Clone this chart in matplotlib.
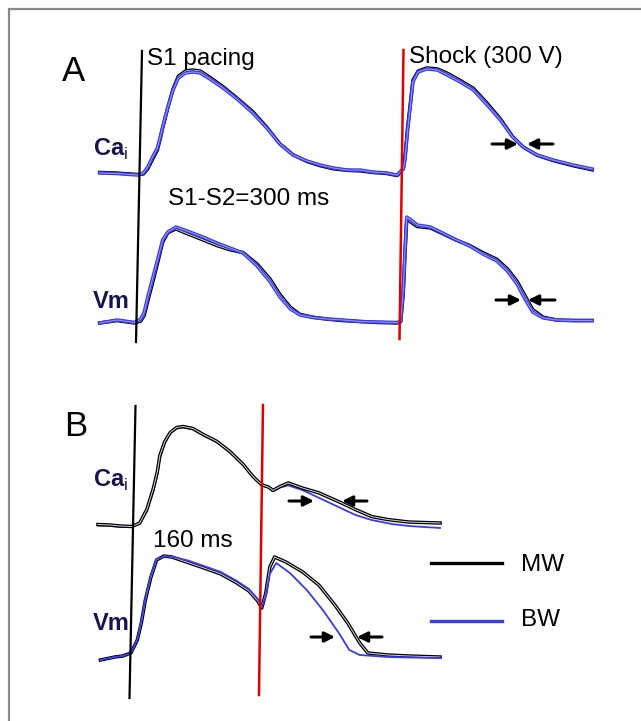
import matplotlib.pyplot as plt

plt.rcParams['font.family'] = ['Liberation Sans', 'DejaVu Sans']
plt.rcParams['mathtext.fontset'] = 'custom'
plt.rcParams['mathtext.rm'] = 'Liberation Sans'
plt.rcParams['mathtext.bf'] = 'Liberation Sans:bold'

# ---- panel A: S1-S2 = 300 ms, time in ms from S1, amplitude in % of peak ----
tA_ca = [-45, -27, -10, -1, 5, 10, 16, 21, 24, 27, 33, 39, 45, 53, 61, 70, 81, 96, 112, 130,
         146, 161, 176, 192, 207, 222, 238, 253, 267, 283, 295, 298, 302, 304, 307, 310, 313,
         319, 329, 341, 352, 367, 382, 398, 413, 427, 439, 455, 473, 496, 518]
caA_bw = [1, 0.5, -0.5, -1, 1, 6.7, 17.3, 25, 34.6, 45.2, 64.4, 80.8, 92.3, 97.1, 98.1, 97.1,
          91.3, 82.7, 72.1, 58.7, 44.2, 28.8, 18.3, 12.5, 8.7, 5.8, 3.8, 3.8, 1.9, 1, -1, 1.9,
          4.8, 13.5, 42.3, 64.4, 88.5, 98.1, 101, 100, 95.2, 88.5, 80.8, 66.3, 51.9, 35.6, 26,
          18.3, 13.5, 8.7, 4.8]
caA_mw = [1.5, 1, 0, -0.5, 0, 5, 15, 23, 33, 44, 64, 82, 94, 99, 100, 99, 93, 84, 73, 60, 45,
          29, 18.5, 12, 8, 5, 3.5, 3, 1.5, 0.5, -1.5, 1, 5, 16, 45, 67, 90, 99, 102, 101, 97, 90,
          82.5, 68, 53, 36, 26, 18, 13, 8, 4]

tA_vm = [-45, -25, -5, 2, 6, 10, 16, 22, 27, 33, 42, 55, 73, 89, 104, 119, 135, 150, 161, 173,
         184, 199, 215, 233, 253, 272, 295, 299, 302, 304, 306, 311, 318, 333, 347, 363, 378,
         393, 409, 421, 432, 441, 450, 462, 478, 496, 518]
vmA_bw = [-1.1, 2.1, -0.5, 3.2, 10.5, 26.3, 47.4, 68.4, 86.3, 94.7, 100, 95.8, 89.5, 83.2, 77.9,
          72.6, 58.9, 42.1, 26.3, 13.7, 7.4, 4.7, 3.2, 2.1, 0.5, 0, -0.5, 0.5, 33.7, 75.8, 110.5,
          107.4, 102.1, 100, 93.7, 86.3, 80, 71.6, 64.2, 53.7, 40, 24.2, 10.5, 4.2, 2.1, 1.6, 1.6]
vmA_mw = [-1, 1.5, -1, 1, 7, 22, 43, 65, 84, 94, 98, 93, 86.5, 80.5, 76, 73, 61, 45, 29, 15.5,
          8, 5, 3, 1.5, 0.5, -0.5, -1, 0, 30, 72, 109, 105, 100.5, 99, 93, 86, 80.5, 73, 66, 56,
          43, 28, 13, 5, 2, 1.5, 1.5]

# ---- panel B: S1-S2 = 160 ms ----
tB_ca_mw = [-43, -28, -16, -1, 9, 18, 26, 31, 34, 40, 47, 55, 63, 75, 88, 105, 121, 138, 150, 161,
            169, 175, 184, 194, 211, 232, 257, 278, 298, 318, 344, 383]
caB_mw = [1.5, 1, 0, -0.5, 3, 17, 38, 55, 71, 85, 94.5, 99.5, 100.5, 98.5, 92.5, 85.5, 75.5, 62,
          50, 41.5, 39.5, 36, 40, 43.5, 38.5, 33.5, 24.5, 16.5, 9.5, 6.5, 4, 3]
tB_ca_bw = [-43, -28, -16, -1, 9, 18, 26, 31, 34, 40, 47, 55, 63, 75, 88, 105, 121, 138, 150, 161,
            169, 175, 184, 194, 211, 232, 257, 278, 298, 323, 344, 383]
caB_bw = [0.5, 0, -1, -1, 2.5, 15, 35, 52, 68, 83, 93.5, 98.5, 99.5, 97.5, 91.5, 84.5, 74.5, 61.5,
          49.5, 41, 39, 35, 39, 41, 36.5, 28.5, 19, 11, 6, 2, 0, -2]

tB_vm_mw = [-40, -22, -12, -2, 6, 11, 16, 23, 30, 39, 49, 69, 89, 110, 130, 145, 156, 161, 166, 171,
            177, 191, 212, 232, 252, 268, 283, 293, 318, 344, 383]
vmB_mw = [-4, -1, 0, 3, 16, 33, 56, 79, 96, 100, 99, 93.5, 88, 82, 73, 65, 55, 48, 63, 89, 99, 94,
          84, 71, 51, 33, 13, 3, 1, 0, -1]
tB_vm_bw = [-40, -22, -12, -2, 6, 11, 16, 23, 30, 39, 49, 69, 89, 110, 130, 145, 156, 161, 166, 171,
            179, 196, 217, 237, 257, 270, 283, 318, 344, 383]
vmB_bw = [-4, -1, 0, 3, 17, 35, 58, 81, 97, 99.5, 99.5, 95.5, 90, 84, 75, 67, 57, 49, 60, 82, 93,
          83, 66, 46, 23, 6, 1, -1, -1.5, -2]

s2_A = 300
s2_B = 160

BLUE = '#3b3bee'
NAVY = '#16164e'
RED = '#e00000'

W, H = 641, 721
fig = plt.figure(figsize=(W / 100, H / 100), dpi=100)


def trace_axes(t0, pxms, base, amp):
    # place an axes so that t=0 sits on the S1 line and 0..100 % spans the trace
    xmin, xmax, ymin, ymax = -60, 540, -20, 130
    left = t0 + pxms * xmin
    right = t0 + pxms * xmax
    top = base - amp * ymax / 100
    bottom = base - amp * ymin / 100
    ax = fig.add_axes([left / W, 1 - bottom / H, (right - left) / W, (bottom - top) / H])
    ax.set_xlim(xmin, xmax)
    ax.set_ylim(ymin, ymax)
    ax.axis('off')
    return ax


def double_line(ax, t, v, color, inner):
    ax.plot(t, v, color=color, lw=2.5, solid_joinstyle='round', clip_on=False)
    ax.plot(t, v, color=inner, lw=0.7, solid_joinstyle='round', clip_on=False)


# panel A
axA_ca = trace_axes(139, 0.875, 174, 104)
double_line(axA_ca, tA_ca, caA_mw, 'black', '#d8d8d8')
double_line(axA_ca, tA_ca, caA_bw, BLUE, '#9a9aff')
axA_vm = trace_axes(139, 0.875, 322, 95)
double_line(axA_vm, tA_vm, vmA_mw, 'black', '#d8d8d8')
double_line(axA_vm, tA_vm, vmA_bw, BLUE, '#9a9aff')

# panel B
axB_ca = trace_axes(132.5, 0.803, 526, 99)
axB_ca.plot(tB_ca_bw, caB_bw, color=BLUE, lw=1.3, clip_on=False)
double_line(axB_ca, tB_ca_mw, caB_mw, 'black', '#d8d8d8')
axB_vm = trace_axes(132.5, 0.803, 656, 100)
double_line(axB_vm, tB_vm_mw, vmB_mw, 'black', '#d8d8d8')
axB_vm.plot(tB_vm_bw, vmB_bw, color=BLUE, lw=1.3, clip_on=False)

# overlay in pixel units for labels, stimulus markers and arrows
ov = fig.add_axes([0, 0, 1, 1])
ov.set_xlim(0, W)
ov.set_ylim(H, 0)
ov.axis('off')

# frame (cut off at right and bottom)
ov.plot([9, 9, W + 5], [H + 5, 9, 9], color='#888888', lw=1.6, solid_joinstyle='miter')

# stimulus lines
for t0, pxms, s2, y0, y1 in [(139, 0.875, s2_A, 51, 342), (132.5, 0.803, s2_B, 406, 698)]:
    x1 = t0
    x2 = t0 + pxms * s2
    ov.plot([x1 + 3, x1 - 3], [y0, y1], color='black', lw=1.6)
    ov.plot([x2 + 2, x2 - 2], [y0 - 1, y1 - 3], color=RED, lw=1.8)

txt = dict(fontsize=17.5, va='baseline', ha='left', color='black')
ov.text(62, 81, 'A', fontsize=25, va='baseline', ha='left')
ov.text(64, 436, 'B', fontsize=25, va='baseline', ha='left')
ov.text(147, 65, 'S1 pacing', **txt)
ov.text(409, 63, 'Shock (300 V)', **txt)
ov.text(168, 205, 'S1-S2=300 ms', **txt)
ov.text(153, 547, '160 ms', **txt)

lab = dict(fontsize=17, va='baseline', ha='left', color=NAVY)
for yb in (156, 487):
    ov.text(93, yb, r'$\mathbf{Ca}_\mathrm{i}$', **lab)
for yb in (308, 630):
    ov.text(93, yb, 'Vm', fontweight='bold', **lab)

# arrows
arr = dict(arrowstyle='-|>', lw=2.2, color='black', mutation_scale=15, shrinkA=0, shrinkB=0)
for (xa, xb), (xc, xd), y in [((492, 518), (553, 527), 144), ((496, 521), (555, 528), 300),
                               ((289, 314), (367, 342), 501), ((311, 335), (382, 357), 637)]:
    ov.annotate('', xy=(xb, y), xytext=(xa, y), arrowprops=arr)
    ov.annotate('', xy=(xd, y), xytext=(xc, y), arrowprops=arr)

# legend
ov.plot([431, 502], [563, 563], color='black', lw=2.4)
ov.plot([431, 502], [621, 621], color=BLUE, lw=2.4)
ov.text(521, 565, 'MW', fontsize=17.5, va='center', ha='left')
ov.text(521, 620, 'BW', fontsize=17.5, va='center', ha='left')

fig.savefig('out.png', dpi=100)
